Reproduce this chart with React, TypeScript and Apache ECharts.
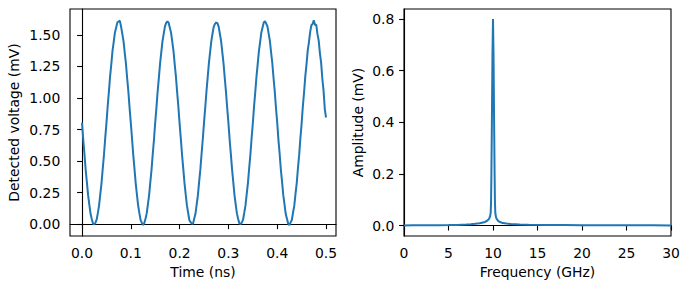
import React, { useEffect, useRef } from "react";
import * as echarts from "echarts";

const TIME_STEP_NS = 0.0025;
const VOLTAGE_MV: number[] = [
  0.805, 0.672, 0.556, 0.433, 0.332, 0.230, 0.155, 0.083, 0.041, 0.006,
  -0.002, 0.012, 0.036, 0.090, 0.150, 0.238, 0.327, 0.441, 0.550, 0.678,
  0.797, 0.928, 1.044, 1.168, 1.266, 1.372, 1.443, 1.518, 1.558, 1.598,
  1.605, 1.612, 1.566, 1.509, 1.452, 1.361, 1.274, 1.158, 1.051, 0.921,
  0.803, 0.679, 0.549, 0.440, 0.326, 0.237, 0.150, 0.090, 0.035, 0.012,
  -0.006, 0.008, 0.042, 0.084, 0.156, 0.231, 0.334, 0.433, 0.557, 0.671,
  0.804, 0.921, 1.051, 1.159, 1.274, 1.362, 1.451, 1.509, 1.566, 1.594,
  1.606, 1.595, 1.556, 1.517, 1.443, 1.370, 1.266, 1.167, 1.043, 0.929,
  0.796, 0.678, 0.550, 0.441, 0.327, 0.236, 0.149, 0.091, 0.032, 0.016,
  0.004, 0.003, 0.045, 0.083, 0.157, 0.230, 0.336, 0.432, 0.556, 0.673,
  0.803, 0.922, 1.050, 1.160, 1.273, 1.363, 1.450, 1.510, 1.565, 1.586,
  1.597, 1.592, 1.564, 1.508, 1.451, 1.362, 1.273, 1.160, 1.050, 0.922,
  0.804, 0.671, 0.557, 0.434, 0.333, 0.231, 0.156, 0.084, 0.042, 0.007,
  0.001, 0.013, 0.036, 0.091, 0.149, 0.238, 0.326, 0.441, 0.549, 0.679,
  0.796, 0.929, 1.043, 1.167, 1.266, 1.371, 1.442, 1.518, 1.557, 1.597,
  1.608, 1.589, 1.566, 1.509, 1.451, 1.361, 1.275, 1.158, 1.052, 0.920,
  0.806, 0.670, 0.558, 0.432, 0.335, 0.228, 0.158, 0.081, 0.044, 0.004,
  -0.007, 0.015, 0.033, 0.093, 0.147, 0.240, 0.324, 0.443, 0.547, 0.681,
  0.794, 0.931, 1.041, 1.169, 1.264, 1.374, 1.440, 1.521, 1.575, 1.585,
  1.615, 1.578, 1.580, 1.505, 1.456, 1.355, 1.280, 1.152, 1.058, 0.914,
  0.845,
];

// Right panel: amplitude spectrum
const FREQ_GHZ: number[] = [
  0, 1, 2, 3, 4, 5, 6, 7, 7.5, 8, 8.5, 9, 9.3, 9.5, 9.6, 9.68, 9.74, 9.78,
  9.82, 9.88, 9.94, 10.0, 10.06, 10.12, 10.18, 10.22, 10.26, 10.34, 10.45,
  10.6, 10.8, 11.1, 11.5, 12, 13, 14, 16, 18, 20, 22, 24, 26, 28, 30,
];
const AMP_MV: number[] = [
  0.001, 0.0012, 0.0013, 0.0015, 0.0018, 0.0022, 0.003, 0.0045, 0.0055, 0.007,
  0.009, 0.013, 0.018, 0.024, 0.03, 0.038, 0.05, 0.09, 0.2, 0.42, 0.66, 0.8,
  0.66, 0.42, 0.2, 0.09, 0.05, 0.032, 0.024, 0.018, 0.014, 0.01, 0.008,
  0.0065, 0.005, 0.004, 0.003, 0.0025, 0.002, 0.0018, 0.0016, 0.0014, 0.0012,
  0.001,
];

const TIME_TICKS = [0, 0.1, 0.2, 0.3, 0.4, 0.5];
const VOLT_TICKS = [0, 0.25, 0.5, 0.75, 1.0, 1.25, 1.5];
const AMP_TICKS = [0, 0.2, 0.4, 0.6, 0.8];

const FONT = "DejaVu Sans";
const FONT_SIZE = 13.9;
const BLUE = "#1f77b4";

export default function App() {
  const ref = useRef<HTMLDivElement>(null);

  useEffect(() => {
    document.body.style.margin = "0";
    if (!ref.current) return;
    const chart = echarts.init(ref.current, undefined, { renderer: "svg" });

    const axisCommon = {
      axisLine: { show: true, lineStyle: { color: "#000", width: 1.1 } },
      axisTick: { show: true, length: 4.9, lineStyle: { color: "#000", width: 1.1 } },
      splitLine: { show: false },
      nameTextStyle: { fontFamily: FONT, fontSize: FONT_SIZE, color: "#000" },
    };
    const labelCommon = { fontFamily: FONT, fontSize: FONT_SIZE, color: "#000", margin: 9.7 };

    const timeData = VOLTAGE_MV.map((v, i) => [i * TIME_STEP_NS, v]);
    const specData = FREQ_GHZ.map((f, i) => [f, AMP_MV[i]]);

    chart.setOption({
      animation: false,
      grid: [
        { left: 70, top: 9, width: 266, height: 227, show: true, borderColor: "#000", borderWidth: 1.1 },
        { left: 404, top: 9, width: 267, height: 227, show: true, borderColor: "#000", borderWidth: 1.1 },
      ],
      xAxis: [
        {
          ...axisCommon,
          gridIndex: 0,
          type: "value",
          min: -0.0246,
          max: 0.5205,
          name: "Time (ns)",
          nameLocation: "middle",
          nameGap: 29,
          axisTick: { ...axisCommon.axisTick, customValues: TIME_TICKS },
          axisLabel: { ...labelCommon, customValues: TIME_TICKS, formatter: (v: number) => v.toFixed(1) },
        },
        {
          ...axisCommon,
          gridIndex: 1,
          type: "value",
          min: 0,
          max: 30,
          interval: 5,
          name: "Frequency (GHz)",
          nameLocation: "middle",
          nameGap: 29,
          axisLabel: { ...labelCommon, formatter: (v: number) => String(Math.round(v)) },
        },
      ],
      yAxis: [
        {
          ...axisCommon,
          gridIndex: 0,
          type: "value",
          min: -0.093,
          max: 1.704,
          name: "Detected voltage (mV)",
          nameLocation: "middle",
          nameGap: 49,
          axisTick: { ...axisCommon.axisTick, customValues: VOLT_TICKS },
          axisLabel: { ...labelCommon, customValues: VOLT_TICKS, formatter: (v: number) => v.toFixed(2) },
        },
        {
          ...axisCommon,
          gridIndex: 1,
          type: "value",
          min: -0.04,
          max: 0.839,
          name: "Amplitude (mV)",
          nameLocation: "middle",
          nameGap: 39.5,
          axisTick: { ...axisCommon.axisTick, customValues: AMP_TICKS },
          axisLabel: { ...labelCommon, customValues: AMP_TICKS, formatter: (v: number) => v.toFixed(1) },
        },
      ],
      series: [
        {
          type: "line",
          xAxisIndex: 0,
          yAxisIndex: 0,
          data: timeData,
          showSymbol: false,
          lineStyle: { color: BLUE, width: 2 },
          itemStyle: { color: BLUE },
        },
        {
          type: "line",
          xAxisIndex: 1,
          yAxisIndex: 1,
          data: specData,
          showSymbol: false,
          lineStyle: { color: BLUE, width: 2 },
          itemStyle: { color: BLUE },
        },
      ],
    });

    return () => chart.dispose();
  }, []);

  return <div ref={ref} style={{ width: 689, height: 289 }} />;
}
